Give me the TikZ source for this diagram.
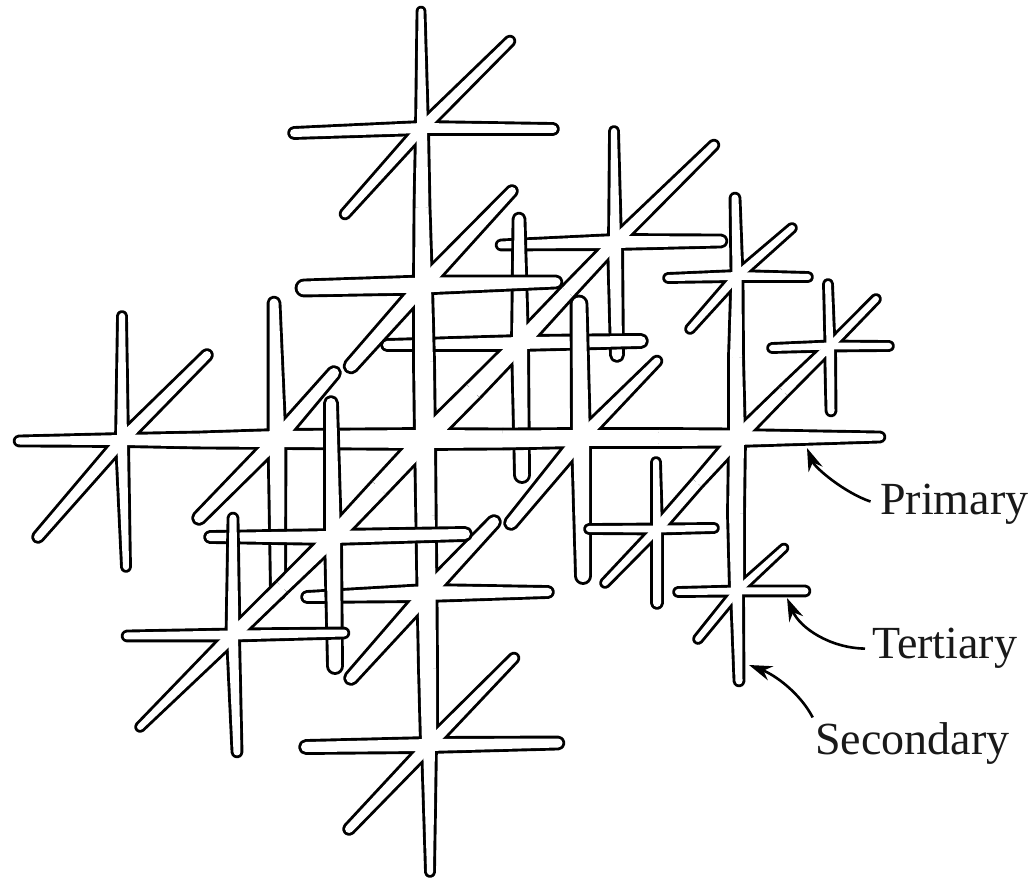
\documentclass[tikz,border=0pt]{standalone}
\usepackage{fontspec}
\setmainfont{Liberation Serif}
\usetikzlibrary{arrows.meta}
\tikzset{
  rodline/.style={draw=black,line width=5.8pt,line join=round},
  rodfill/.style={fill=white},
  lbl/.style={anchor=base west,inner sep=0pt,font=\fontsize{46}{52}\selectfont,text=black!90},
  callout/.style={draw=black,line width=2.6pt,-{Stealth[length=23pt,width=15pt]}}
}
% one arm of a rod star: centre x,y ; tip x,y ; half width base, tip ; round tip flag ; pass
\newcommand{\dendarm}[8]{%
  \pgfmathsetmacro\Xa{#1}\pgfmathsetmacro\Ya{878-#2}%
  \pgfmathsetmacro\Xb{#3}\pgfmathsetmacro\Yb{878-#4}%
  \pgfmathsetmacro\Ang{atan2(\Yb-\Ya,\Xb-\Xa)}%
  \pgfmathsetmacro\Len{veclen(\Yb-\Ya,\Xb-\Xa)}%
  \ifnum#8=0
    \ifnum#7=1
      \path[rodline,shift={(\Xa pt,\Ya pt)},rotate=\Ang] (0pt,#5pt) -- (\Len pt,#6pt) arc[start angle=90,end angle=-90,radius=#6pt] -- (0pt,-#5pt);
    \else
      \path[rodline,shift={(\Xa pt,\Ya pt)},rotate=\Ang] (0pt,#5pt) -- (\Len pt,#6pt) (\Len pt,-#6pt) -- (0pt,-#5pt);
    \fi
  \else
    \ifnum#7=1
      \path[rodfill,shift={(\Xa pt,\Ya pt)},rotate=\Ang] (0pt,#5pt) -- (\Len pt,#6pt) arc[start angle=90,end angle=-90,radius=#6pt] -- (0pt,-#5pt) -- cycle;
    \else
      \path[rodfill,shift={(\Xa pt,\Ya pt)},rotate=\Ang] (0pt,#5pt) -- (\Len pt,#6pt) -- (\Len pt,-#6pt) -- (0pt,-#5pt) -- cycle;
    \fi
  \fi
}
\newcommand{\dendstar}[3]{%
  \foreach \xt/\yt/\wb/\wt/\cp in {#3}{\dendarm{#1}{#2}{\xt}{\yt}{\wb}{\wt}{\cp}{0}}%
  \foreach \xt/\yt/\wb/\wt/\cp in {#3}{\dendarm{#1}{#2}{\xt}{\yt}{\wb}{\wt}{\cp}{1}}%
}
\begin{document}
\begin{tikzpicture}[x=1pt,y=1pt]
\useasboundingbox (0,0) rectangle (1032,878);
\fill[white] (0,0) rectangle (1032,878);
% back to front
\dendstar{615}{242}{614/131/5/3/1, 617/355/6/5/1, 501/245/6/3.5/1, 721/241/6/4.5/1, 714/145/5.5/3.5/1, 567.5/292/5.5/6.5/0}
\dendstar{520}{343}{519/219/7/4.5/1, 522/475/7/6/1, 387/345/6/4/1, 641/341/6/5/1, 567.5/292/7.5/6.5/0, 473/391/7.5/8.5/0}
\dendstar{122}{440}{19/441/5/3.5/1, 200/440/5/6.5/0, 122/316/5/3/1, 126/567/5/3/1, 207/355/5.5/4/1, 38/537/5.5/4/1}
\dendstar{277}{439}{200/440/8/6.5/0, 351/439/8/8.5/0, 274/303/7.5/4.5/1, 278/592/7.5/6/1, 334/373/6.5/5/1, 199/518/6.5/5/1}
\dendstar{423}{285}{422/207/8/6.5/0, 424/362/8/9/0, 304/288/7.5/6.5/1, 556/282/7.5/4.5/1, 512/191/7/4/1, 351/366/7/5.5/1}
\dendstar{422}{128}{421/11/5/2.5/1, 422/207/5/6.5/0, 294/133/5/4/1, 553/129/5/4/1, 510/41/5/3.5/1, 345/214/5/3.5/1}
\dendstar{425}{439}{351/439/9/8.5/0, 503/439/9/8.5/0, 424/362/9/9/0, 426/516/9/8.7/0, 473/391/9/8.5/0, 379/488/9/8.5/0}
\dendstar{427}{593}{426/516/8.5/8.7/0, 428/669/8.5/8/0, 307/597/7/4/1, 548/592/7/4/1, 494/522/7/5/1, 351/678/7/5/1}
\dendstar{581}{438}{503/439/8/8.5/0, 659/438/8/8/0, 579/304/8/6.5/1, 583/576/8/6/1, 657/361/6/3.5/1, 511/523/7/5/1}
\dendstar{737}{438}{659/438/7.5/8/0, 880/437/7/3.5/1, 736/357/7/6/0, 736/514/7/7/0, 783.5/391.5/6/5/0, 697/483/6.5/5/0}
\dendstar{737}{276}{735/198/4.5/3.5/1, 736/357/4.5/6/0, 668/278/4/3/1, 808/277/4/3/1, 792/228/4/3/1, 690/329/4/3/1}
\dendstar{830}{346}{828/284/3.5/3/1, 831/411/4/3.5/1, 772/348/3.5/3/1, 889/346/3.5/3/1, 876/299/3.5/3/1, 783.5/391.5/4/5/0}
\dendstar{429}{745}{428/669/7/8/0, 430/872/6/3/1, 306/747/6/5/1, 558/743/6/4.5/1, 514/658/5.5/3.5/1, 349/829/5.5/4/1}
\dendstar{657}{529}{656/462/4/3/1, 657/603/4/4/1, 589/529/3.5/3/1, 714/528/3.5/3/1, 697/483/5/5/0, 605/583/4/3/1}
\dendstar{737}{591}{736/514/6/7/0, 739/681/5/3.5/1, 678/592/3.5/3/1, 805/591/3.5/3.5/1, 784/548/3.5/2.5/1, 698/639/3.5/3/1}
\dendstar{333}{537}{331/403/7/5/1, 335/666/7/6/1, 210/537/6/4/1, 465/534/6/5/1, 379/488/7.5/8.5/0, 282/587/7.5/6.5/0}
\dendstar{233}{635}{233/518/5.5/3.5/1, 237/752/5/3.5/1, 127/636/4.5/3.5/1, 344/633/4.5/3.5/1, 282/587/6/6.5/0, 140/727/6/3/1}
% labels
\node[lbl] (lblP) at (880,363) {Primary};
\node[lbl] (lblT) at (872,219) {Tertiary};
\node[lbl] (lblS) at (815,124) {Secondary};
\coordinate (tipP) at (807,430);
\coordinate (tipT) at (787,280);
\coordinate (tipS) at (749,213);
\draw[callout,shorten <=10pt] (lblP.west) .. controls (845,385) and (815,410) .. (tipP);
\draw[callout,shorten <=7pt] (lblT.west) .. controls (830,230) and (800,250) .. (tipT);
\draw[callout,shorten <=5pt] (lblS.north west) .. controls (800,185) and (775,203) .. (tipS);
\end{tikzpicture}
\end{document}
